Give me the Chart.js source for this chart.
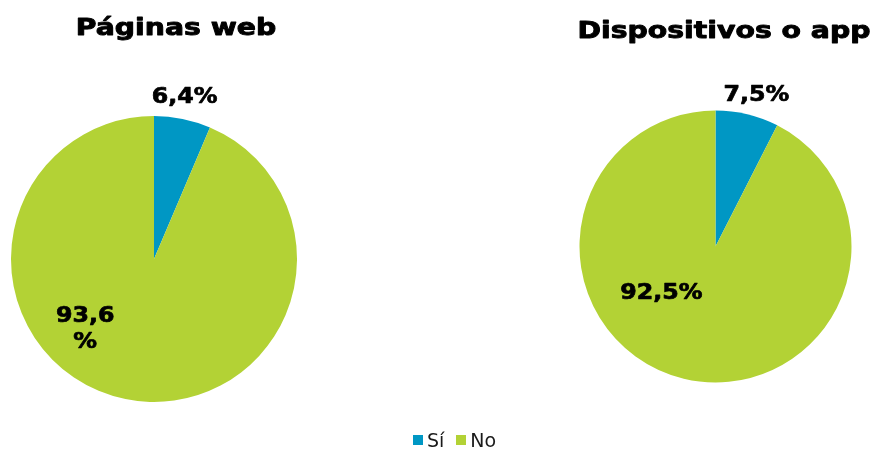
<!DOCTYPE html>
<html>
<head>
<meta charset="utf-8">
<script src="https://cdn.jsdelivr.net/npm/chart.js@4/dist/chart.umd.min.js"></script>
<style>
  html, body { margin: 0; padding: 0; background: #ffffff; }
  #page { position: relative; width: 877px; height: 450px; overflow: hidden; background: #fff; }
  .panel { position: absolute; top: 0; height: 450px; }
  #p1 { left: 0; width: 440px; }
  #p2 { left: 440px; width: 437px; }
  #legend { position: absolute; left: 16px; top: 428px; width: 877px; height: 24px;
            display: flex; justify-content: center; align-items: center;
            font-family: "DejaVu Sans", Verdana, sans-serif; font-size: 19px; color: #1a1a1a; }
  .item { display: flex; align-items: center; margin: 0 6px; }
  .sw { width: 10px; height: 10px; margin-right: 4px; }
</style>
</head>
<body>
<div id="page">
  <div class="panel" id="p1"><canvas id="c1"></canvas></div>
  <div class="panel" id="p2"><canvas id="c2"></canvas></div>
  <div id="legend"></div>
</div>
<script>
// ---- data ----
const categories = ['Sí', 'No'];
const panelTitles = ['Páginas web', 'Dispositivos o app'];
const webValues = [6.4, 93.6];
const appValues = [7.5, 92.5];
const sliceColors = ['#0097C4', '#B3D235'];

// ---- helpers ----
function drawStretched(ctx, text, x, y, sx, sw) {
  ctx.save();
  ctx.translate(x, y);
  ctx.scale(sx, 1);
  if (sw) { ctx.lineWidth = sw; ctx.lineJoin = 'round'; ctx.strokeText(text, 0, 0); }
  ctx.fillText(text, 0, 0);
  ctx.restore();
}
function fmt(v) { return v.toFixed(1).replace('.', ',') + '%'; }

const panelTitlePlugin = {
  id: 'panelTitle',
  afterDraw(chart, args, o) {
    const ctx = chart.ctx;
    ctx.save();
    ctx.font = 'bold ' + o.size + 'px "DejaVu Sans", Verdana, sans-serif';
    ctx.fillStyle = o.color;
    ctx.strokeStyle = o.color;
    ctx.textAlign = 'center';
    ctx.textBaseline = 'alphabetic';
    drawStretched(ctx, o.text, o.x, o.y, o.stretch, o.weight);
    ctx.restore();
  }
};

const sliceLabelPlugin = {
  id: 'sliceLabels',
  afterDatasetsDraw(chart, args, o) {
    const ctx = chart.ctx;
    const meta = chart.getDatasetMeta(0);
    const values = chart.data.datasets[0].data;
    ctx.save();
    ctx.font = 'bold ' + o.size + 'px "DejaVu Sans", Verdana, sans-serif';
    ctx.fillStyle = o.color;
    ctx.strokeStyle = o.color;
    ctx.textAlign = 'center';
    ctx.textBaseline = 'middle';
    meta.data.forEach((arc, i) => {
      const p = o.place[i];
      const a = arc.getProps(['x', 'y', 'outerRadius'], true);
      const ang = (p.angle - 90) * Math.PI / 180;
      const d = a.outerRadius * p.dist + (p.add || 0);
      const cx = a.x + Math.cos(ang) * d;
      const cy = a.y + Math.sin(ang) * d + (p.dy || 0);
      const txt = fmt(values[i]);
      const lines = p.wrap ? [txt.slice(0, -1), '%'] : [txt];
      const lh = o.lineHeight;
      lines.forEach((ln, k) => {
        const yy = cy + (k - (lines.length - 1) / 2) * lh;
        drawStretched(ctx, ln, cx, yy, o.stretch, o.weight);
      });
    });
    ctx.restore();
  }
};

function makePie(canvasId, values, title, titlePos, padding, place) {
  return new Chart(document.getElementById(canvasId), {
    type: 'pie',
    data: {
      labels: categories,
      datasets: [{ data: values, backgroundColor: sliceColors, borderWidth: 0 }]
    },
    options: {
      responsive: true,
      maintainAspectRatio: false,
      animation: false,
      events: [],
      layout: { padding: padding },
      plugins: {
        legend: { display: false },
        tooltip: { enabled: false },
        title: { display: false },
        panelTitle: { text: title, x: titlePos.x, y: titlePos.y, size: 23, stretch: 1.23, weight: 0.9, color: '#000' },
        sliceLabels: { place: place, size: 21, stretch: 1.13, weight: 0.7, lineHeight: 26, color: '#000' }
      }
    },
    plugins: [panelTitlePlugin, sliceLabelPlugin]
  });
}

makePie('c1', webValues, panelTitles[0], { x: 176, y: 35 },
  { left: 11, right: 143, top: 116, bottom: 48 },
  [ { angle: 10.8, dist: 1, add: 21 }, { angle: 225, dist: 0.68, wrap: true, dy: 2 } ]);

makePie('c2', appValues, panelTitles[1], { x: 284, y: 38 },
  { left: 139.5, right: 25.5, top: 110.5, bottom: 67.5 },
  [ { angle: 15.2, dist: 1, add: 20 }, { angle: 230, dist: 0.52, dy: 2 } ]);

// ---- legend ----
const legend = document.getElementById('legend');
categories.forEach((c, i) => {
  const it = document.createElement('div');
  it.className = 'item';
  const sw = document.createElement('span');
  sw.className = 'sw';
  sw.style.background = sliceColors[i];
  const tx = document.createElement('span');
  tx.textContent = c;
  it.appendChild(sw); it.appendChild(tx);
  legend.appendChild(it);
});
</script>
</body>
</html>
